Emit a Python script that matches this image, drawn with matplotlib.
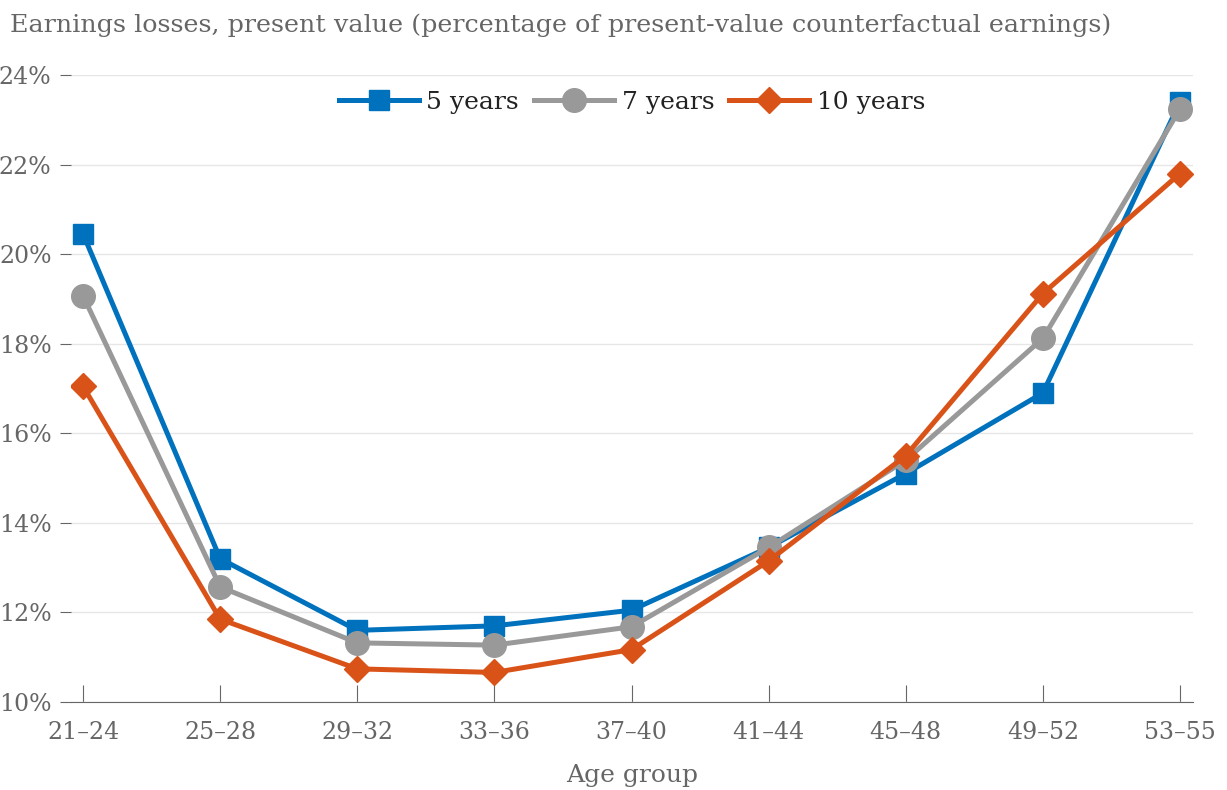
import matplotlib
matplotlib.use("Agg")
import matplotlib.pyplot as plt
from matplotlib.ticker import FuncFormatter

# Data
age_groups = ['21–24', '25–28', '29–32', '33–36', '37–40', '41–44', '45–48', '49–52', '53–55']
five_years = [20.45, 13.2, 11.6, 11.7, 12.05, 13.45, 15.1, 16.9, 23.4]
seven_years = [19.07, 12.57, 11.32, 11.27, 11.68, 13.45, 15.4, 18.12, 23.24]
ten_years = [17.05, 11.85, 10.74, 10.66, 11.17, 13.15, 15.5, 19.12, 21.8]

plt.rcParams['font.family'] = ['DejaVu Serif']

fig = plt.figure(figsize=(12.27, 7.9), dpi=100)
ax = fig.add_axes([71 / 1227, 88 / 790, (1193 - 71) / 1227, (702 - 75) / 790])

x = list(range(len(age_groups)))
ax.plot(x, five_years, color='#0072bd', lw=3.6, marker='s', ms=14, label='5 years', zorder=3)
ax.plot(x, seven_years, color='#999999', lw=3.6, marker='o', ms=17, label='7 years', zorder=4)
ax.plot(x, ten_years, color='#d95319', lw=3.6, marker='D', ms=13, label='10 years', zorder=5)

ax.set_xlim(-0.088, 8.095)
ax.set_ylim(10, 24)
ax.set_yticks(range(10, 25, 2))
ax.yaxis.set_major_formatter(FuncFormatter(lambda v, p: f'{v:.0f}%'))
ax.set_xticks(x)
ax.set_xticklabels(age_groups)

ax.grid(True, axis='y', color='#e6e6e6', lw=1)
ax.set_axisbelow(True)
for s in ['top', 'right', 'left']:
    ax.spines[s].set_visible(False)
ax.spines['bottom'].set_color('#666666')
ax.tick_params(axis='x', direction='in', length=12, color='#666666', labelcolor='#666666',
               labelsize=17, pad=14)
ax.tick_params(axis='y', length=8, color='#666666', labelcolor='#666666', labelsize=17, pad=6)
ax.set_xlabel('Age group', fontsize=18, color='#666666', labelpad=14)

fig.text(10 / 1227, 1 - 25 / 790, 'Earnings losses, present value (percentage of present-value counterfactual earnings)',
         fontsize=18.3, color='#666666', ha='left', va='center')

leg = ax.legend(loc='upper center', bbox_to_anchor=(0.5, 1.01), ncol=3, frameon=False, fontsize=18,
                handlelength=3.2, columnspacing=0.6, handletextpad=0.3)
for t in leg.get_texts():
    t.set_color('#222222')

fig.savefig('out.png', dpi=100)
